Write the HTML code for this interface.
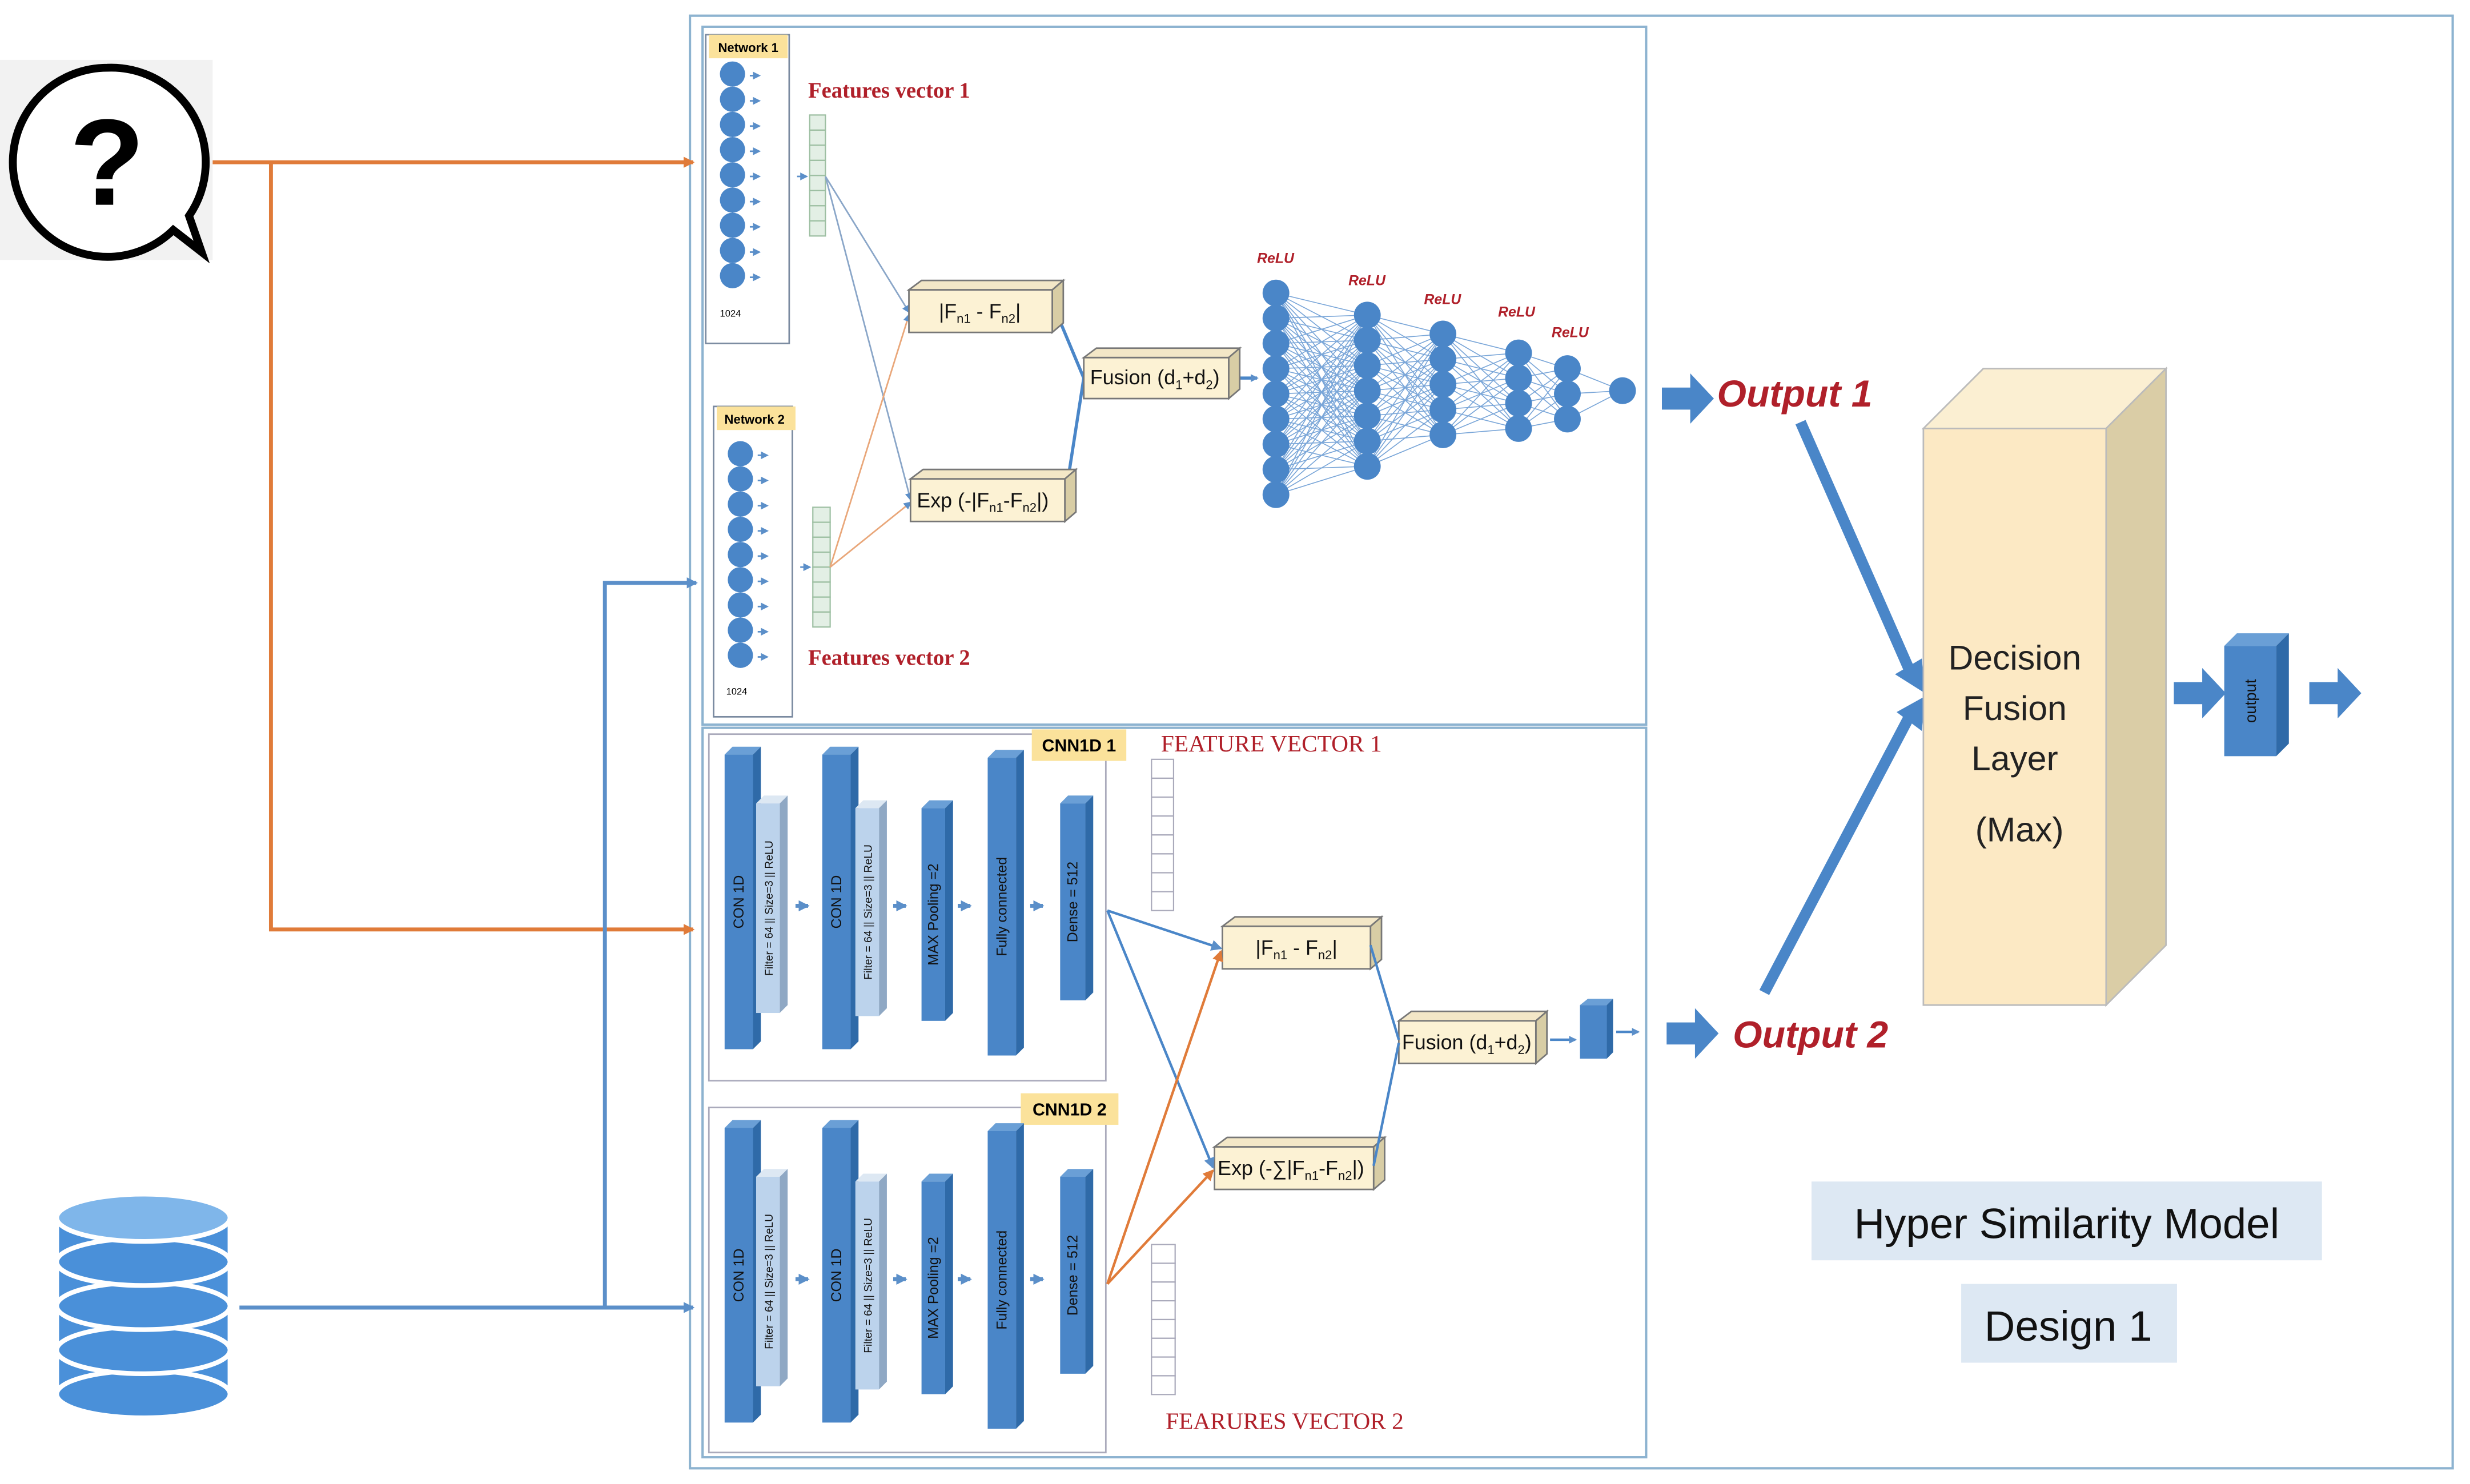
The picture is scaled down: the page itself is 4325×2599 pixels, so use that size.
<!DOCTYPE html>
<html><head><meta charset="utf-8"><style>
html,body{margin:0;padding:0;background:#fff;}
svg{display:block;}
text{font-family:"Liberation Sans",sans-serif;}
.serif{font-family:"Liberation Serif",serif;}
</style></head><body>
<svg id="s" width="4325" height="2599" viewBox="0 0 1568 942" preserveAspectRatio="none" xmlns="http://www.w3.org/2000/svg">
<defs>
<marker id="ab" markerUnits="userSpaceOnUse" markerWidth="7" markerHeight="7" refX="6" refY="3.5" orient="auto"><path d="M0,0 L7,3.5 L0,7 z" fill="#5b8fc9"/></marker>
<marker id="ao" markerUnits="userSpaceOnUse" markerWidth="7" markerHeight="7" refX="6" refY="3.5" orient="auto"><path d="M0,0 L7,3.5 L0,7 z" fill="#e07b39"/></marker>
<marker id="as" markerUnits="userSpaceOnUse" markerWidth="5" markerHeight="5" refX="4" refY="2.5" orient="auto"><path d="M0,0 L5,2.5 L0,5 z" fill="#5b8fc9"/></marker>
<g id="bigarrow"><path d="M0,9 L18,9 L18,0 L33,16 L18,32 L18,23 L0,23 z" fill="#4a86c8"/></g>
</defs>
<rect width="1568" height="942" fill="#fff"/>
<rect x="438" y="10" width="1119" height="922" fill="none" stroke="#8db3d0" stroke-width="1.5"/>
<rect x="446" y="17" width="599" height="443" fill="none" stroke="#8db3d0" stroke-width="1.5"/>
<rect x="446" y="462" width="599" height="463" fill="none" stroke="#8db3d0" stroke-width="1.5"/>

<rect x="0" y="38" width="135" height="127" fill="#f2f2f2"/>
<path d="M68,43 A60,60 0 1,0 110,146 L128,160 L120,137 A60,60 0 0,0 68,43 z" fill="#fff" stroke="#000" stroke-width="5"/>
<text x="68" y="130" font-size="78" font-weight="bold" text-anchor="middle">?</text>

<g fill="#4a90d9" stroke="#fff" stroke-width="3">
<rect x="36" y="770" width="110" height="115"/>
<ellipse cx="91" cy="885" rx="55" ry="15"/>
<ellipse cx="91" cy="857" rx="55" ry="15"/>
<ellipse cx="91" cy="829" rx="55" ry="15"/>
<ellipse cx="91" cy="801" rx="55" ry="15"/>
<ellipse cx="91" cy="773" rx="55" ry="15" fill="#7fb6ea"/>
</g>

<g stroke="#e07b39" stroke-width="2.5" fill="none">
<path d="M135,103 L440,103" marker-end="url(#ao)"/>
<path d="M172,103 L172,590 L440,590" marker-end="url(#ao)"/>
</g>
<g stroke="#5b8fc9" stroke-width="2.5" fill="none">
<path d="M152,830 L440,830" marker-end="url(#ab)"/>
<path d="M384,830 L384,370 L442,370" marker-end="url(#ab)"/>
</g>

<rect x="448" y="22" width="53" height="196" fill="#fff" stroke="#7a8aa0" stroke-width="1"/>
<rect x="450" y="22" width="50" height="15" fill="#fbe29b"/>
<text x="475" y="33" font-size="8" font-weight="bold" text-anchor="middle">Network 1</text>
<text x="457" y="201" font-size="6">1024</text>
<rect x="453" y="258" width="50" height="197" fill="#fff" stroke="#7a8aa0" stroke-width="1"/>
<rect x="455" y="258" width="50" height="15" fill="#fbe29b"/>
<text x="479" y="269" font-size="8" font-weight="bold" text-anchor="middle">Network 2</text>
<text x="461" y="441" font-size="6">1024</text>
<g id="n1" fill="#4a86c8"></g>

<text class="serif" x="513" y="62" font-size="14" font-weight="bold" fill="#b0202a">Features vector 1</text>
<text class="serif" x="513" y="422" font-size="14" font-weight="bold" fill="#b0202a">Features vector 2</text>
<g id="fv" fill="#e3efe5" stroke="#9dbfa2" stroke-width="0.8"></g>

<g stroke="#8aa6c8" stroke-width="1" fill="none">
<path d="M524,112 L577,198" marker-end="url(#as)"/>
<path d="M524,112 L578,317" marker-end="url(#as)"/>
</g>
<g stroke="#e9a77a" stroke-width="1" fill="none">
<path d="M527,360 L577,200" marker-end="url(#as)"/>
<path d="M527,360 L578,319" marker-end="url(#as)"/>
</g>
<g stroke="#4a86c8" stroke-width="2" fill="none">
<path d="M670,197 L688,240"/>
<path d="M676,317 L688,240"/>
<path d="M784,240 L798,240" marker-end="url(#as)"/>
</g>

<g stroke="#777" stroke-width="1">
<g><path d="M577,184 L585,178 L675,178 L668,184 z" fill="#f3e7c7"/><path d="M668,184 L675,178 L675,205 L668,211 z" fill="#d8cda5"/><rect x="577" y="184" width="91" height="27" fill="#fcf2d4"/></g>
<g><path d="M578,304 L586,298 L683,298 L676,304 z" fill="#f3e7c7"/><path d="M676,304 L683,298 L683,325 L676,331 z" fill="#d8cda5"/><rect x="578" y="304" width="98" height="27" fill="#fcf2d4"/></g>
<g><path d="M688,227 L696,221 L787,221 L780,227 z" fill="#f3e7c7"/><path d="M780,227 L787,221 L787,247 L780,253 z" fill="#d8cda5"/><rect x="688" y="227" width="92" height="26" fill="#fcf2d4"/></g>
<g><path d="M776,588 L784,582 L877,582 L870,588 z" fill="#f3e7c7"/><path d="M870,588 L877,582 L877,609 L870,615 z" fill="#d8cda5"/><rect x="776" y="588" width="94" height="27" fill="#fcf2d4"/></g>
<g><path d="M771,728 L779,722 L879,722 L872,728 z" fill="#f3e7c7"/><path d="M872,728 L879,722 L879,749 L872,755 z" fill="#d8cda5"/><rect x="771" y="728" width="101" height="27" fill="#fcf2d4"/></g>
<g><path d="M888,648 L896,642 L982,642 L975,648 z" fill="#f3e7c7"/><path d="M975,648 L982,642 L982,669 L975,675 z" fill="#d8cda5"/><rect x="888" y="648" width="87" height="27" fill="#fcf2d4"/></g>
</g>
<g font-size="13" fill="#111">
<text x="622" y="202" text-anchor="middle">|F<tspan font-size="8" dy="3">n1</tspan><tspan dy="-3"> -  F</tspan><tspan font-size="8" dy="3">n2</tspan><tspan dy="-3">|</tspan></text>
<text x="582" y="322">Exp (-|F<tspan font-size="8" dy="3">n1</tspan><tspan dy="-3">-F</tspan><tspan font-size="8" dy="3">n2</tspan><tspan dy="-3">|)</tspan></text>
<text x="692" y="244">Fusion (d<tspan font-size="8" dy="3">1</tspan><tspan dy="-3">+d</tspan><tspan font-size="8" dy="3">2</tspan><tspan dy="-3">)</tspan></text>
<text x="823" y="606" text-anchor="middle">|F<tspan font-size="8" dy="3">n1</tspan><tspan dy="-3"> -  F</tspan><tspan font-size="8" dy="3">n2</tspan><tspan dy="-3">|</tspan></text>
<text x="773" y="746">Exp (-∑|F<tspan font-size="8" dy="3">n1</tspan><tspan dy="-3">-F</tspan><tspan font-size="8" dy="3">n2</tspan><tspan dy="-3">|)</tspan></text>
<text x="890" y="666">Fusion (d<tspan font-size="8" dy="3">1</tspan><tspan dy="-3">+d</tspan><tspan font-size="8" dy="3">2</tspan><tspan dy="-3">)</tspan></text>
</g>

<g id="nnl" stroke="#7aa6d8" stroke-width="0.6"></g>
<g id="nnc" fill="#4a86c8"></g>
<g font-size="9" font-style="italic" font-weight="bold" fill="#b0202a">
<text x="798" y="167">ReLU</text><text x="856" y="181">ReLU</text><text x="904" y="193">ReLU</text><text x="951" y="201">ReLU</text><text x="985" y="214">ReLU</text>
</g>

<use href="#bigarrow" x="1055" y="237"/>
<text x="1090" y="258" font-size="24" font-style="italic" font-weight="bold" fill="#b0202a">Output 1</text>
<use href="#bigarrow" x="1058" y="640"/>
<text x="1100" y="665" font-size="24" font-style="italic" font-weight="bold" fill="#b0202a">Output 2</text>
<g stroke="#4a86c8" stroke-width="7" fill="none">
<path d="M1143,268 L1212,425"/>
<path d="M1120,630 L1212,455"/>
</g>
<path d="M1203,428 L1222,440 L1220,418 z" fill="#4a86c8"/>
<path d="M1204,452 L1222,442 L1220,464 z" fill="#4a86c8"/>

<path d="M1221,272 L1259,234 L1375,234 L1337,272 z" fill="#fbefd2" stroke="#bbb"/>
<path d="M1337,272 L1375,234 L1375,600 L1337,638 z" fill="#dacda6" stroke="#bbb"/>
<rect x="1221" y="272" width="116" height="366" fill="#fce9c4" stroke="#bbb"/>
<g font-size="22" text-anchor="middle" fill="#222">
<text x="1279" y="425">Decision</text><text x="1279" y="457">Fusion</text><text x="1279" y="489">Layer</text><text x="1282" y="534">(Max)</text>
</g>
<use href="#bigarrow" x="1380" y="424"/>
<path d="M1412,410 L1420,402 L1453,402 L1445,410 z" fill="#6a9fd6"/>
<path d="M1445,410 L1453,402 L1453,472 L1445,480 z" fill="#2f6aa8"/>
<rect x="1412" y="410" width="33" height="70" fill="#4a86c8"/>
<text x="1432" y="445" font-size="10" text-anchor="middle" fill="#111" transform="rotate(-90 1432 445)">output</text>
<use href="#bigarrow" x="1466" y="424"/>

<rect x="1150" y="750" width="324" height="50" fill="#dde8f3"/>
<text x="1312" y="786" font-size="27" text-anchor="middle" fill="#111">Hyper Similarity Model</text>
<rect x="1245" y="815" width="137" height="50" fill="#dde8f3"/>
<text x="1313" y="851" font-size="27" text-anchor="middle" fill="#111">Design 1</text>

<rect x="450" y="466" width="252" height="220" fill="none" stroke="#aab" stroke-width="1"/>
<rect x="450" y="703" width="252" height="219" fill="none" stroke="#aab" stroke-width="1"/>
<rect x="655" y="463" width="60" height="20" fill="#fbe29b"/>
<text x="685" y="477" font-size="11" font-weight="bold" text-anchor="middle">CNN1D 1</text>
<rect x="648" y="694" width="62" height="20" fill="#fbe29b"/>
<text x="679" y="708" font-size="11" font-weight="bold" text-anchor="middle">CNN1D 2</text>
<g id="cnn"></g>
<text class="serif" x="737" y="477" font-size="15" fill="#b0202a">FEATURE VECTOR 1</text>
<text class="serif" x="740" y="907" font-size="15" fill="#b0202a">FEARURES VECTOR 2</text>
<g id="cfv" fill="#fff" stroke="#aab" stroke-width="0.8"></g>
<g stroke="#4a86c8" stroke-width="1.6" fill="none">
<path d="M703,578 L775,602" marker-end="url(#ab)"/>
<path d="M703,578 L770,741" marker-end="url(#ab)"/>
<path d="M870,600 L888,660"/>
<path d="M872,740 L888,662"/>
<path d="M984,660 L1000,660" marker-end="url(#as)"/>
<path d="M1026,655 L1040,655" marker-end="url(#as)"/>
</g>
<g stroke="#e07b39" stroke-width="1.6" fill="none">
<path d="M703,815 L775,604" marker-end="url(#ao)"/>
<path d="M703,815 L770,743" marker-end="url(#ao)"/>
</g>
<path d="M1003,638 L1008,634 L1024,634 L1020,638 z" fill="#6a9fd6"/>
<path d="M1020,638 L1024,634 L1024,668 L1020,672 z" fill="#2f6aa8"/>
<rect x="1003" y="638" width="17" height="34" fill="#4a86c8"/>
</svg>
<script>
var NS="http://www.w3.org/2000/svg";
function el(p,t,a){var e=document.createElementNS(NS,t);for(var k in a)e.setAttribute(k,a[k]);document.getElementById(p).appendChild(e);return e;}
for(var i=0;i<9;i++){el("n1","circle",{cx:465,cy:47+i*16,r:8});el("n1","path",{d:"M476,"+(48+i*16)+" l6,0",stroke:"#5b8fc9","stroke-width":1,"marker-end":"url(#as)"});
el("n1","circle",{cx:470,cy:288+i*16,r:8});el("n1","path",{d:"M481,"+(289+i*16)+" l6,0",stroke:"#5b8fc9","stroke-width":1,"marker-end":"url(#as)"});}
for(var i=0;i<8;i++){el("fv","rect",{x:514,y:73+i*9.6,width:10,height:9.6});el("fv","rect",{x:516,y:322+i*9.5,width:11,height:9.5});}
for(var i=0;i<8;i++){el("cfv","rect",{x:731,y:482+i*12,width:14,height:12});el("cfv","rect",{x:731,y:790+i*11.9,width:15,height:11.9});}
el("n1","path",{d:"M506,112 l6,0",stroke:"#5b8fc9","stroke-width":1,"marker-end":"url(#as)"});
el("n1","path",{d:"M508,360 l6,0",stroke:"#5b8fc9","stroke-width":1,"marker-end":"url(#as)"});
var L=[[810,186,16,9],[868,200,16,7],[916,212,16,5],[964,224,16,4],[995,234,16,3],[1030,248,16,1]];
for(var l=0;l<L.length-1;l++){var a=L[l],b=L[l+1];for(var i=0;i<a[3];i++)for(var j=0;j<b[3];j++)el("nnl","line",{x1:a[0],y1:a[1]+i*a[2],x2:b[0],y2:b[1]+j*b[2]});}
L.forEach(function(a){for(var i=0;i<a[3];i++)el("nnc","circle",{cx:a[0],cy:a[1]+i*a[2],r:8.5});});
function bar(x,y,w,h,c,side,top,label,sub){el("cnn","path",{d:"M"+x+","+y+" l5,-5 l"+w+",0 l-5,5z",fill:top});el("cnn","path",{d:"M"+(x+w)+","+y+" l5,-5 l0,"+h+" l-5,5z",fill:side});el("cnn","rect",{x:x,y:y,width:w,height:h,fill:c});
var t=el("cnn","text",{x:x+w/2+3,y:y+h/2,"font-size":sub?7:9,"text-anchor":"middle",transform:"rotate(-90 "+(x+w/2+3)+" "+(y+h/2)+")",fill:"#111"});t.textContent=label;}
[0,237].forEach(function(o){
bar(460,479+o,18,187,"#4a86c8","#2f6aa8","#6a9fd6","CON 1D");
bar(480,510+o,15,133,"#bcd3ec","#8fa8c4","#dde8f3","Filter = 64 || Size=3 || ReLU",1);
bar(522,479+o,18,187,"#4a86c8","#2f6aa8","#6a9fd6","CON 1D");
bar(543,513+o,15,132,"#bcd3ec","#8fa8c4","#dde8f3","Filter = 64 || Size=3 || ReLU",1);
bar(585,513+o,15,135,"#4a86c8","#2f6aa8","#6a9fd6","MAX Pooling =2");
bar(627,481+o,18,189,"#4a86c8","#2f6aa8","#6a9fd6","Fully connected");
bar(673,510+o,16,125,"#4a86c8","#2f6aa8","#6a9fd6","Dense = 512");
[505,567,608,654].forEach(function(x){el("cnn","path",{d:"M"+x+","+(575+o)+" l8,0",stroke:"#5b8fc9","stroke-width":2.5,"marker-end":"url(#ab)"});});
});
</script>
</body></html>
